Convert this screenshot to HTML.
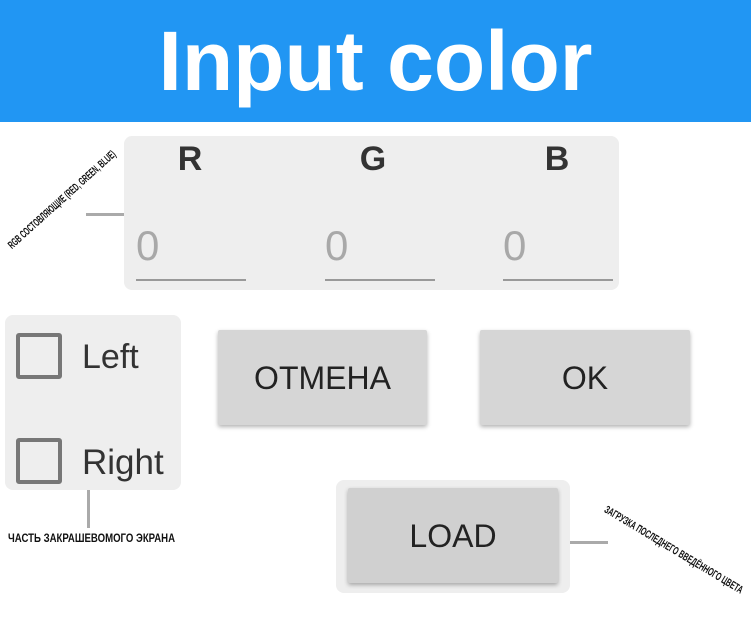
<!DOCTYPE html>
<html><head><meta charset="utf-8"><style>
body{margin:0;width:751px;height:638px;background:#fff;position:relative;overflow:hidden;font-family:"Liberation Sans",sans-serif}
div{position:absolute;box-sizing:border-box}
.hdr{left:0;top:0;width:751px;height:122px;background:#2196F3;color:#fff;font-weight:bold;font-size:84px;text-align:center;line-height:122px}
.panel{background:#eeeeee;border-radius:8px}
.lbl{font-weight:bold;font-size:34px;color:#333;width:60px;text-align:center;top:140px}
.zero{font-size:42px;color:#a8a8a8;top:222px}
.ul{height:2px;background:#999;top:279px;width:110px}
.cb{width:46px;height:46px;border:4px solid #777;border-radius:3px;left:16px}
.ct{font-size:34px;color:#333;left:82px}
.btn{background:#d6d6d6;box-shadow:0 2px 4px rgba(0,0,0,.3);font-size:32px;color:#222;text-align:center;border-radius:2px}
.gl{background:#aaa}
.note{font-weight:bold;font-size:11px;color:#111;white-space:nowrap;transform-origin:0 50%}
</style></head><body>
<div class="hdr">Input color</div>

<div class="panel" style="left:124px;top:136px;width:495px;height:154px"></div>
<div class="lbl" style="left:160px">R</div>
<div class="lbl" style="left:343px">G</div>
<div class="lbl" style="left:527px">B</div>
<div class="zero" style="left:136px">0</div>
<div class="zero" style="left:325px">0</div>
<div class="zero" style="left:503px">0</div>
<div class="ul" style="left:136px"></div>
<div class="ul" style="left:325px"></div>
<div class="ul" style="left:503px"></div>
<div class="gl" style="left:86px;top:213px;width:38px;height:3px"></div>
<div class="note" style="left:10px;top:241px;transform:rotate(-42deg) scaleX(0.58)">RGB СОСТОВЛЯЮЩИЕ (RED, GREEN, BLUE)</div>

<div class="panel" style="left:5px;top:315px;width:176px;height:175px"></div>
<div class="cb" style="top:333px"></div>
<div class="ct" style="top:338px">Left</div>
<div class="cb" style="top:438px"></div>
<div class="ct" style="top:443px;font-size:35px">Right</div>
<div class="gl" style="left:87px;top:490px;width:3px;height:38px"></div>
<div class="note" style="left:8px;top:531px;font-size:12px;transform:scaleX(0.8)">ЧАСТЬ ЗАКРАШЕВОМОГО ЭКРАНА</div>

<div class="btn" style="left:218px;top:330px;width:209px;height:95px;line-height:97px">ОТМЕНА</div>
<div class="btn" style="left:480px;top:330px;width:210px;height:95px;line-height:97px">OK</div>

<div class="panel" style="left:336px;top:480px;width:234px;height:113px"></div>
<div class="btn" style="left:348px;top:488px;width:210px;height:95px;line-height:97px;background:#d0d0d0">LOAD</div>
<div class="gl" style="left:570px;top:541px;width:38px;height:3px"></div>
<div class="note" style="left:605px;top:503px;transform:rotate(31deg) scaleX(0.62)">ЗАГРУЗКА ПОСЛЕДНЕГО ВВЕДЁННОГО ЦВЕТА</div>
</body></html>
